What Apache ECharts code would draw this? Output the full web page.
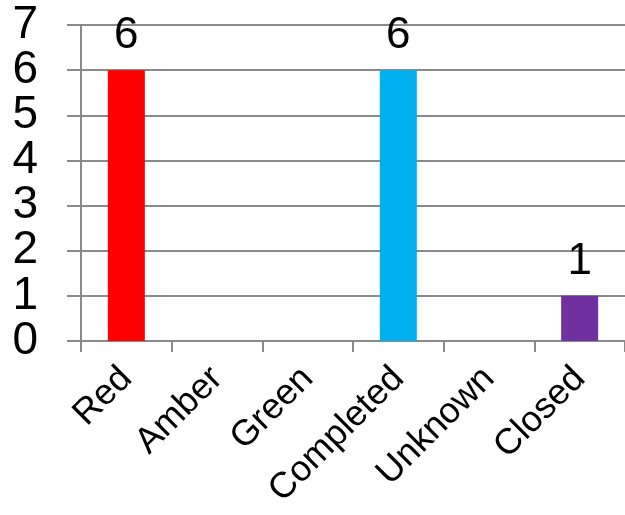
<!DOCTYPE html>
<html>
<head>
<meta charset="utf-8">
<script src="https://cdn.jsdelivr.net/npm/echarts@6/dist/echarts.min.js"></script>
<style>
  html, body { margin: 0; padding: 0; background: #fff; }
  #chart { width: 625px; height: 515px; }
</style>
</head>
<body>
<div id="chart"></div>
<script>
// Status counts per category
const categories = ['Red', 'Amber', 'Green', 'Completed', 'Unknown', 'Closed'];
const counts = [6, 0, 0, 6, 0, 1];
const barColors = ['#FF0000', '#FFC000', '#00B050', '#00B0F0', '#A6A6A6', '#7030A0'];
const yTicks = [0, 1, 2, 3, 4, 5, 6, 7];

const chart = echarts.init(document.getElementById('chart'));
const font = 'Liberation Sans, Arial, sans-serif';
const gridGray = '#8a8a8a';

// The tall tick labels touch their neighbours, so even and odd values are
// put on two stacked value axes to keep every one of them visible.
function valueAxis(showEven, main) {
  return {
    type: 'value',
    position: 'left',
    min: yTicks[0],
    max: yTicks[yTicks.length - 1],
    interval: 1,
    axisLine: { show: main, lineStyle: { color: gridGray, width: 2 } },
    axisTick: { show: main, length: 14, lineStyle: { color: gridGray, width: 2 } },
    splitLine: { show: main, lineStyle: { color: gridGray, width: 2 } },
    axisLabel: {
      margin: 43,
      color: '#000',
      fontFamily: font,
      fontSize: 46,
      formatter: v => ((v % 2 === 0) === showEven ? String(v) : ''),
      showMinLabel: true,
      showMaxLabel: true
    }
  };
}

chart.setOption({
  animation: false,
  grid: { left: 81, right: 0, top: 25, bottom: 174, containLabel: false },
  xAxis: {
    type: 'category',
    data: categories,
    boundaryGap: true,
    axisLine: { show: true, lineStyle: { color: gridGray, width: 2 } },
    axisTick: { show: true, length: 11, interval: 0, lineStyle: { color: gridGray, width: 2 } },
    axisLabel: {
      interval: 0,
      rotate: 45,
      margin: 32,
      color: '#000',
      fontFamily: font,
      fontSize: 36
    }
  },
  yAxis: [valueAxis(true, true), valueAxis(false, false)],
  series: [{
    type: 'bar',
    yAxisIndex: 0,
    barWidth: 37,
    data: counts.map((v, i) => ({
      value: v,
      itemStyle: { color: barColors[i] },
      label: { show: v > 0 }
    })),
    label: {
      position: 'top',
      distance: 12,
      color: '#000',
      fontFamily: font,
      fontSize: 44
    }
  }]
});
</script>
</body>
</html>
